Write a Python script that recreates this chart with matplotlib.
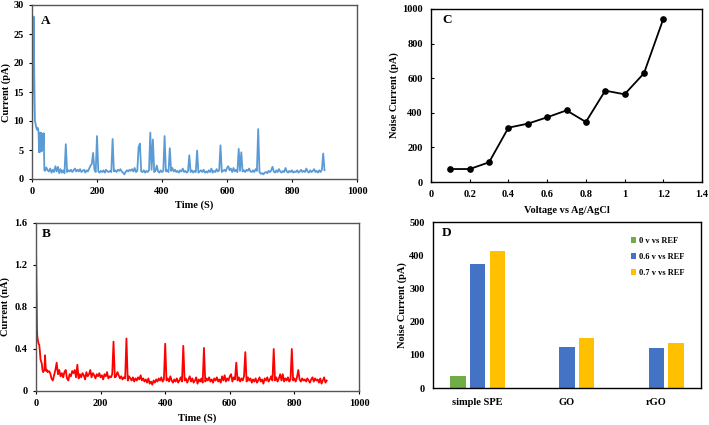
import numpy as np
import matplotlib
matplotlib.use("Agg")
import matplotlib.pyplot as plt

plt.rcParams['font.family'] = ['Liberation Serif', 'DejaVu Serif']
plt.rcParams['font.weight'] = 'bold'

# ---------------- Panel A data (pA) ----------------
early_time_a = [0, 1, 2, 3, 5, 7, 9, 12, 15, 18, 20, 22, 24, 26, 28, 30, 32, 34, 36, 38]
early_curr_a = [6.5, 12, 17, 15, 28, 18, 10, 9.2, 8.5, 8.8, 8.2, 4.6, 7.9, 4.7, 8.0, 4.8, 7.8, 5.0, 7.9, 1.5]
grid_time_a = list(range(40, 901, 4))
grid_curr_a = [
    1.4, 2.0, 1.5, 1.3, 1.8, 1.1, 1.6, 1.2, 2.2, 1.3, 2.1, 1.0, 1.7, 1.1, 1.5, 1.0, 6.0, 1.2, 1.5, 1.3, 1.6, 1.2, 1.5, 1.8, 1.3,
    1.6, 1.3, 1.7, 1.2, 1.4, 1.6, 1.1, 1.5, 1.3, 1.8, 2.3, 2.6, 4.5, 1.6, 1.2, 7.4, 1.3, 1.1, 1.4, 1.2, 1.5, 1.1, 1.6, 1.3, 1.2,
    1.4, 1.2, 6.9, 1.3, 1.5, 1.2, 1.6, 1.4, 1.7, 1.3, 1.1, 0.8, 1.2, 1.5, 1.3, 1.6, 1.4, 1.7, 1.3, 1.9, 1.2, 1.4, 5.5, 6.1, 1.3,
    1.2, 1.5, 1.1, 1.4, 1.2, 1.5, 8.0, 1.6, 6.8, 1.2, 1.4, 2.3, 1.3, 1.1, 1.5, 1.2, 1.4, 7.4, 1.3, 1.5, 1.2, 5.3, 1.4, 1.9, 1.3,
    1.6, 1.2, 1.4, 1.1, 1.5, 1.3, 1.8, 1.2, 1.4, 1.1, 1.3, 4.1, 1.2, 1.5, 1.1, 1.4, 1.2, 4.9, 1.1, 1.3, 1.5, 1.2, 1.6, 1.1, 1.3,
    1.1, 1.5, 1.2, 1.8, 1.1, 1.4, 1.2, 1.7, 1.3, 1.5, 5.8, 1.2, 1.4, 1.6, 1.3, 1.9, 2.2, 1.5, 1.8, 1.2, 1.9, 1.3, 1.6, 1.2, 5.2,
    1.4, 4.6, 1.3, 1.5, 1.2, 1.6, 1.4, 1.8, 1.3, 1.2, 1.5, 1.2, 1.7, 1.4, 8.6, 1.2, 0.9, 1.0, 0.8, 1.1, 1.2, 1.0, 1.4, 1.2, 1.5,
    2.1, 1.3, 1.1, 1.5, 1.2, 1.7, 1.3, 1.1, 1.4, 1.2, 1.9, 1.3, 1.1, 1.4, 1.2, 1.5, 1.1, 1.3, 1.2, 1.5, 1.1, 1.3, 1.6, 1.2, 1.4,
    1.2, 1.8, 1.3, 1.1, 1.5, 1.2, 1.4, 1.7, 1.2, 1.4, 1.1, 1.5, 1.2, 1.6, 4.4, 1.5,
]
time_a = early_time_a + grid_time_a
curr_a = early_curr_a + grid_curr_a

# ---------------- Panel B data (nA) ----------------
early_time_b = [0, 1, 2, 3, 4, 6, 8, 10, 12, 14, 16, 18, 20, 22, 24, 26, 28, 30, 32, 34, 36]
early_curr_b = [1.4, 1.1, 0.8, 0.6, 0.52, 0.48, 0.45, 0.44, 0.38, 0.3, 0.28, 0.26, 0.2, 0.18, 0.19, 0.2, 0.34, 0.22, 0.19, 0.2, 0.18]
grid_time_b = list(range(40, 901, 4))
grid_curr_b = [
    0.19, 0.17, 0.12, 0.10, 0.15, 0.20, 0.27, 0.16, 0.20, 0.14, 0.17, 0.13, 0.18, 0.20, 0.12, 0.10, 0.16, 0.14, 0.19, 0.17, 0.20, 0.13, 0.25, 0.12, 0.16,
    0.13, 0.17, 0.15, 0.11, 0.18, 0.14, 0.16, 0.20, 0.13, 0.17, 0.15, 0.12, 0.16, 0.14, 0.17, 0.13, 0.15, 0.11, 0.16, 0.14, 0.18, 0.12, 0.14, 0.13, 0.16,
    0.47, 0.13, 0.14, 0.18, 0.15, 0.12, 0.14, 0.11, 0.13, 0.12, 0.50, 0.10, 0.14, 0.12, 0.10, 0.13, 0.09, 0.12, 0.10, 0.13, 0.11, 0.15, 0.10, 0.12, 0.09,
    0.11, 0.08, 0.12, 0.07, 0.09, 0.06, 0.10, 0.08, 0.11, 0.09, 0.12, 0.10, 0.13, 0.09, 0.11, 0.45, 0.10, 0.12, 0.09, 0.14, 0.10, 0.08, 0.11, 0.09, 0.12,
    0.08, 0.10, 0.13, 0.09, 0.43, 0.10, 0.12, 0.08, 0.11, 0.14, 0.09, 0.12, 0.08, 0.10, 0.13, 0.07, 0.11, 0.09, 0.12, 0.08, 0.41, 0.09, 0.12, 0.10, 0.13,
    0.09, 0.11, 0.08, 0.12, 0.10, 0.13, 0.09, 0.11, 0.08, 0.14, 0.10, 0.15, 0.09, 0.12, 0.10, 0.14, 0.16, 0.09, 0.13, 0.11, 0.27, 0.10, 0.13, 0.09, 0.12,
    0.10, 0.14, 0.37, 0.09, 0.13, 0.10, 0.12, 0.08, 0.11, 0.09, 0.12, 0.08, 0.10, 0.13, 0.09, 0.11, 0.07, 0.12, 0.10, 0.13, 0.09, 0.11, 0.14, 0.10, 0.40,
    0.10, 0.13, 0.09, 0.12, 0.16, 0.10, 0.16, 0.09, 0.12, 0.10, 0.13, 0.09, 0.11, 0.40, 0.10, 0.12, 0.09, 0.13, 0.20, 0.11, 0.09, 0.12, 0.10, 0.11, 0.09,
    0.12, 0.10, 0.08, 0.11, 0.13, 0.09, 0.12, 0.10, 0.11, 0.08, 0.12, 0.07, 0.10, 0.13, 0.08, 0.10,
]
time_b = early_time_b + grid_time_b
curr_b = early_curr_b + grid_curr_b

# ---------------- Panel C data ----------------
voltage_c = [0.1, 0.2, 0.3, 0.4, 0.5, 0.6, 0.7, 0.8, 0.9, 1.0, 1.1, 1.2]
noise_c = [75, 75, 114, 314, 337, 374, 414, 347, 528, 507, 628, 942]

# ---------------- Panel D data ----------------
categories_d = ['simple SPE', 'GO', 'rGO']
series_d = ['0 v vs REF', '0.6 v vs REF', '0.7 v vs REF']
values_0v = [36, 0, 0]
values_06v = [372, 125, 121]
values_07v = [413, 152, 137]
colors_d = ['#70AD47', '#4472C4', '#FFC000']

W, H = 709, 425
fig = plt.figure(figsize=(W / 100, H / 100), dpi=100)

def ax_px(l, t, r, b):
    return fig.add_axes([l / W, 1 - b / H, (r - l) / W, (b - t) / H])

TICK_FS = 7.5
LAB_FS = 7.5
LET_FS = 9.5

def style(ax, spine_color):
    for s in ax.spines.values():
        s.set_color(spine_color)
        s.set_linewidth(1.0)
    ax.tick_params(labelsize=TICK_FS, length=2.5, width=0.8, direction='out',
                   colors='black')
    for lab in ax.get_xticklabels() + ax.get_yticklabels():
        lab.set_fontweight('bold')

# Panel A
axA = ax_px(32, 5, 357, 179)
axA.plot(time_a, curr_a, color='#5B9BD5', lw=1.3)
axA.set_xlim(0, 1000)
axA.set_ylim(0, 30)
axA.set_xticks([0, 200, 400, 600, 800, 1000])
axA.set_yticks([0, 5, 10, 15, 20, 25, 30])
axA.set_xlabel('Time (S)', fontsize=LAB_FS, fontweight='bold', labelpad=3)
axA.set_ylabel('Current (pA)', fontsize=LAB_FS, fontweight='bold', labelpad=2)
style(axA, '#555555')
axA.text(0.043, 0.91, 'A', transform=axA.transAxes, fontsize=LET_FS, fontweight='bold', va='center', ha='center')

# Panel B
axB = ax_px(36, 223, 359, 391)
axB.plot(time_b, curr_b, color='#FF0000', lw=1.3)
axB.set_xlim(0, 1000)
axB.set_ylim(0, 1.6)
axB.set_xticks([0, 200, 400, 600, 800, 1000])
axB.set_yticks([0, 0.4, 0.8, 1.2, 1.6])
axB.set_yticklabels(['0', '0.4', '0.8', '1.2', '1.6'])
axB.set_xlabel('Time (S)', fontsize=LAB_FS, fontweight='bold', labelpad=4)
axB.set_ylabel('Current (nA)', fontsize=LAB_FS, fontweight='bold', labelpad=3)
style(axB, '#555555')
axB.text(0.033, 0.935, 'B', transform=axB.transAxes, fontsize=LET_FS, fontweight='bold', va='center', ha='center')

# Panel C
axC = ax_px(431, 9, 702, 182)
axC.plot(voltage_c, noise_c, color='black', lw=1.3, marker='o', ms=3.8)
axC.set_xlim(0, 1.4)
axC.set_ylim(0, 1000)
axC.set_xticks([0, 0.2, 0.4, 0.6, 0.8, 1.0, 1.2, 1.4])
axC.set_xticklabels(['0', '0.2', '0.4', '0.6', '0.8', '1', '1.2', '1.4'])
axC.set_yticks([0, 200, 400, 600, 800, 1000])
axC.set_xlabel('Voltage vs Ag/AgCl', fontsize=LAB_FS, fontweight='bold', labelpad=5)
axC.set_ylabel('Noise Current (pA)', fontsize=LAB_FS, fontweight='bold', labelpad=2)
style(axC, 'black')
axC.tick_params(direction='in', pad=6)
axC.text(0.06, 0.935, 'C', transform=axC.transAxes, fontsize=LET_FS, fontweight='bold', va='center', ha='center')

# Panel D
axD = ax_px(433, 222, 701, 388)
x = np.arange(len(categories_d))
bw = 0.175
off = 0.22
axD.bar(x - off, values_0v, bw, color=colors_d[0], label=series_d[0])
axD.bar(x, values_06v, bw, color=colors_d[1], label=series_d[1])
axD.bar(x + off, values_07v, bw, color=colors_d[2], label=series_d[2])
axD.set_xlim(-0.5, 2.5)
axD.set_ylim(0, 500)
axD.set_yticks([0, 100, 200, 300, 400, 500])
axD.set_xticks(x)
axD.set_xticklabels(categories_d)
axD.set_ylabel('Noise Current (pA)', fontsize=LAB_FS, fontweight='bold', labelpad=1.5)
style(axD, 'black')
axD.tick_params(axis='x', length=0, labelsize=7.5, pad=7)
axD.tick_params(axis='y', length=0, pad=6)
for lab in axD.get_xticklabels():
    lab.set_fontweight('bold')
axD.text(0.052, 0.934, 'D', transform=axD.transAxes, fontsize=LET_FS, fontweight='bold', va='center', ha='center')
leg = axD.legend(loc='upper right', bbox_to_anchor=(0.965, 0.955), frameon=False,
                 prop={'size': 6, 'weight': 'bold'}, handlelength=0.6, handleheight=0.6,
                 handletextpad=0.3, labelspacing=0.95)

fig.savefig('out.png', dpi=100)
